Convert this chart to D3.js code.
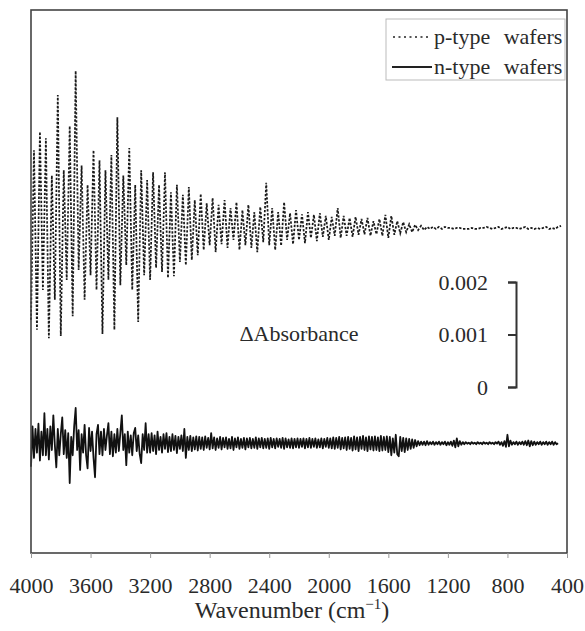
<!DOCTYPE html>
<html>
<head>
<meta charset="utf-8">
<script src="https://cdn.jsdelivr.net/npm/d3@7"></script>
<style>
  html, body { margin: 0; padding: 0; background: #fff; }
  svg { display: block; }
</style>
</head>
<body>
<svg id="chart" width="585" height="631"></svg>
<script>
// ---- data (ΔAbsorbance in units of 0.001, offset traces) ----
const xTickValues = [4000, 3600, 3200, 2800, 2400, 2000, 1600, 1200, 800, 400];
const scaleBarTicks = [0, 1, 2];               // ×0.001 absorbance
const seriesNames = ["p-type wafers", "n-type wafers"];
const pWavenumbers = d3.range(4000, 420, -20);  // p-type sampling grid, cm^-1
const nWavenumbers = d3.range(4000, 455, -10);  // n-type sampling grid, cm^-1

const pType = [
  1.28,4.51,1.09,4.86,1.85,4.74,0.93,4.03,1.66,5.56,
  0.97,4.13,2.04,4.97,1.35,6.02,2.23,4.22,1.66,3.85,
  2.13,4.51,1.85,4.32,1.01,4.13,2.04,4.42,1.09,5.14,
  1.94,4.03,2.32,4.55,1.85,3.85,1.24,4.13,2.13,3.94,
  2.04,4.09,2.27,3.85,2.19,4.09,2.08,3.71,2.11,3.85,
  2.38,3.66,2.32,3.81,2.42,3.56,2.51,3.68,2.61,3.50,
  2.70,3.60,2.57,3.47,2.72,3.56,2.65,3.41,2.80,3.52,
  2.61,3.37,2.70,3.47,2.65,3.33,2.57,3.43,2.76,3.89,
  2.70,3.41,2.61,3.33,2.69,3.52,2.80,3.31,2.72,3.37,
  2.80,3.29,2.74,3.33,2.84,3.28,2.78,3.31,2.86,3.26,
  2.80,3.24,2.88,3.41,2.84,3.26,2.88,3.22,2.86,3.24,
  2.90,3.20,2.91,3.22,2.88,3.16,2.91,3.20,2.88,3.28,
  2.84,3.26,2.90,3.16,2.93,3.14,2.95,3.10,2.95,3.09,
  2.99,3.07,2.99,3.05,3.01,3.05,3.01,3.05,3.01,3.05,
  3.03,3.03,3.01,3.03,3.03,3.01,3.01,3.01,3.03,3.01,
  3.01,3.03,3.03,3.05,3.03,3.01,3.03,3.05,3.01,3.03,
  3.05,3.01,3.03,3.03,3.01,3.03,3.05,3.01,3.03,3.01,
  3.03,3.01,3.03,3.05,3.01,3.03,3.01,3.05,3.07
];

const nType = [
  -1.52,-0.75,-1.35,-0.80,-1.25,-0.70,-1.40,-0.85,-1.30,-0.50,
  -1.30,-0.80,-1.38,-0.75,-1.20,-0.54,-1.10,-1.53,-0.80,-1.30,
  -0.90,-0.58,-1.28,-0.82,-1.35,-0.88,-1.83,-0.95,-1.30,-0.75,
  -0.40,-1.20,-0.82,-1.58,-0.90,-1.25,-0.72,-1.30,-1.55,-0.78,
  -1.22,-0.85,-1.35,-1.72,-0.90,-0.72,-1.28,-0.85,-1.30,-0.80,
  -1.20,-0.92,-0.69,-1.28,-0.85,-1.32,-0.90,-1.25,-0.80,-1.22,
  -0.88,-0.54,-1.20,-0.90,-1.49,-0.85,-1.25,-0.92,-1.30,-0.88,
  -0.78,-1.22,-0.92,-1.28,-1.45,-0.90,-1.20,-0.69,-1.25,-0.90,
  -1.25,-0.88,-1.22,-0.92,-1.28,-0.85,-1.20,-0.95,-1.25,-0.90,
  -1.18,-0.88,-1.24,-0.95,-1.22,-0.90,-1.20,-0.93,-1.26,-0.95,
  -1.18,-0.92,-1.22,-0.80,-1.35,-0.95,-1.20,-0.93,-1.22,-0.96,
  -1.19,-0.94,-1.21,-0.95,-1.18,-0.96,-1.20,-0.94,-1.16,-0.97,
  -1.19,-0.88,-1.17,-0.96,-1.20,-0.98,-1.16,-0.95,-1.19,-0.97,
  -1.15,-0.96,-1.18,-0.99,-1.17,-0.95,-1.20,-0.98,-1.15,-0.96,
  -1.18,-0.99,-1.16,-0.97,-1.19,-0.98,-1.15,-0.97,-1.17,-0.99,
  -1.16,-0.96,-1.18,-0.98,-1.15,-0.97,-1.17,-0.99,-1.16,-0.98,
  -1.18,-0.97,-1.15,-0.99,-1.17,-0.98,-1.14,-0.99,-1.16,-0.97,
  -1.18,-0.98,-1.15,-1.00,-1.16,-0.98,-1.17,-0.99,-1.15,-0.98,
  -1.16,-0.99,-1.14,-0.98,-1.17,-0.99,-1.15,-0.97,-1.16,-0.99,
  -1.14,-0.98,-1.16,-1.00,-1.15,-0.98,-1.17,-0.99,-1.14,-0.97,
  -1.16,-0.98,-1.17,-0.96,-1.18,-0.97,-1.16,-0.95,-1.19,-0.97,
  -1.17,-0.96,-1.20,-0.95,-1.18,-0.97,-1.21,-0.94,-1.19,-0.96,
  -1.22,-0.95,-1.18,-0.93,-1.20,-0.96,-1.22,-0.94,-1.19,-0.95,
  -1.21,-0.94,-1.20,-0.96,-1.22,-0.93,-1.21,-0.95,-1.20,-0.94,
  -1.24,-0.95,-1.30,-0.98,-1.25,-0.91,-1.28,-1.32,-0.95,-1.22,
  -0.97,-1.24,-0.98,-1.20,-0.99,-1.18,-1.00,-1.16,-1.01,-1.13,
  -1.03,-1.11,-1.04,-1.10,-1.04,-1.11,-1.03,-1.10,-1.05,-1.09,
  -1.04,-1.10,-1.05,-1.09,-1.04,-1.10,-1.05,-1.09,-1.04,-1.11,
  -1.05,-1.10,-1.04,-1.12,-1.02,-1.15,-0.98,-1.13,-1.03,-1.10,
  -1.05,-1.09,-1.05,-1.08,-1.06,-1.09,-1.05,-1.08,-1.06,-1.09,
  -1.05,-1.08,-1.06,-1.09,-1.05,-1.08,-1.06,-1.09,-1.05,-1.08,
  -1.06,-1.09,-1.05,-1.08,-1.04,-1.10,-1.05,-1.12,-1.03,-1.14,
  -0.91,-1.13,-1.02,-1.10,-1.05,-1.09,-1.04,-1.10,-1.05,-1.09,
  -1.04,-1.10,-1.03,-1.11,-1.02,-1.13,-1.03,-1.11,-1.04,-1.10,
  -1.05,-1.09,-1.04,-1.10,-1.05,-1.09,-1.04,-1.10,-1.05,-1.09,
  -1.04,-1.10,-1.05,-1.09,-1.07
];

// ---- layout ----
const FONT = "Liberation Serif";
const TEXT = "#2a2a2a";
const svg = d3.select("#chart");
const plot = { left: 31, right: 567, top: 10, bottom: 553 };

const x = d3.scaleLinear().domain([4000, 400]).range([plot.left, plot.right]);
const y = d3.scaleLinear().domain([-3.162, 7.181]).range([plot.bottom, plot.top]);

// series
const pLine = d3.line().x((d, i) => x(pWavenumbers[i])).y(d => y(d));
const nLine = d3.line().x((d, i) => x(nWavenumbers[i])).y(d => y(d));

svg.append("path")
  .datum(pType)
  .attr("d", pLine)
  .attr("fill", "none")
  .attr("stroke", "#1a1a1a")
  .attr("stroke-width", 1.75)
  .attr("stroke-dasharray", "2.4,1.6");

svg.append("path")
  .datum(nType)
  .attr("d", nLine)
  .attr("fill", "none")
  .attr("stroke", "#111")
  .attr("stroke-width", 1.8)
  .attr("stroke-linejoin", "round");

// frame
svg.append("rect")
  .attr("x", plot.left).attr("y", plot.top)
  .attr("width", plot.right - plot.left)
  .attr("height", plot.bottom - plot.top)
  .attr("fill", "none")
  .attr("stroke", "#444")
  .attr("stroke-width", 1.6);

// x axis
const xAxis = d3.axisBottom(x)
  .tickValues(xTickValues)
  .tickFormat(d3.format("d"))
  .tickSizeInner(5).tickSizeOuter(0)
  .tickPadding(19);

const gx = svg.append("g")
  .attr("transform", `translate(0,${plot.bottom})`)
  .call(xAxis)
  .attr("font-family", FONT)
  .attr("font-size", 22);
gx.select(".domain").remove();
gx.selectAll(".tick line").attr("stroke", "#999").attr("stroke-width", 1);
gx.selectAll(".tick text")
  .attr("font-family", FONT)
  .attr("font-size", 22)
  .attr("fill", TEXT);

// x axis title
const title = svg.append("text")
  .attr("x", 292).attr("y", 618)
  .attr("text-anchor", "middle")
  .attr("font-family", FONT)
  .attr("fill", TEXT)
  .attr("font-size", 24);
title.append("tspan").text("Wavenumber (cm");
title.append("tspan").attr("font-size", 15).attr("dy", -9).text("\u22121");
title.append("tspan").attr("dy", 9).text(")");

// scale bar
const sb = d3.scaleLinear().domain([0, 2]).range([y(0), y(2)]);
const sbAxis = d3.axisLeft(sb)
  .tickValues(scaleBarTicks)
  .tickFormat(d => d === 0 ? "0" : (d / 1000).toFixed(3))
  .tickSizeInner(8).tickSizeOuter(8)
  .tickPadding(20);
const gs = svg.append("g").attr("transform", "translate(516,0)").call(sbAxis)
  .attr("font-family", FONT)
  .attr("font-size", 22);
gs.selectAll("path, line").attr("stroke", "#333").attr("stroke-width", 2);
gs.selectAll("text")
  .attr("font-family", FONT)
  .attr("font-size", 22)
  .attr("fill", TEXT);

svg.append("text")
  .attr("x", 299).attr("y", 341)
  .attr("text-anchor", "middle")
  .attr("font-family", FONT)
  .attr("fill", TEXT)
  .attr("font-size", 22)
  .text("\u0394Absorbance");

// legend
const lg = svg.append("g");
lg.append("rect")
  .attr("x", 386).attr("y", 19).attr("width", 179).attr("height", 61)
  .attr("fill", "#fff").attr("stroke", "#bbb").attr("stroke-width", 1);
const legendRows = [
  { name: seriesNames[0], dash: "2,3.5", w: 1.4, x1: 393, x2: 429, yy: 37 },
  { name: seriesNames[1], dash: null, w: 2.2, x1: 392, x2: 432, yy: 67 }
];
legendRows.forEach(r => {
  lg.append("line")
    .attr("x1", r.x1).attr("x2", r.x2).attr("y1", r.yy).attr("y2", r.yy)
    .attr("stroke", "#222").attr("stroke-width", r.w)
    .attr("stroke-dasharray", r.dash);
  lg.append("text")
    .attr("x", 434).attr("y", r.yy + 7)
    .attr("font-family", FONT)
    .attr("fill", TEXT)
    .attr("font-size", 22)
    .attr("word-spacing", 8)
    .text(r.name);
});
</script>
</body>
</html>
